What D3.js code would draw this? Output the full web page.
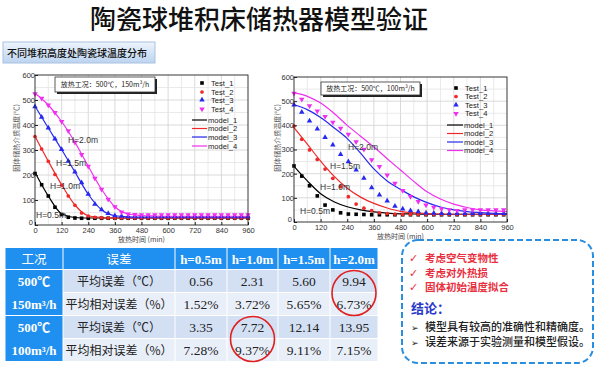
<!DOCTYPE html>
<html><head><meta charset="utf-8">
<script src="https://cdn.jsdelivr.net/npm/d3@7"></script>
<style>
html,body{margin:0;padding:0;background:#fff;}
svg{display:block;}
</style>
</head><body>
<svg id="c" width="600" height="374"></svg>
<script>
// ---------- DATA ----------
const title = "陶瓷球堆积床储热器模型验证";
const subtitle = "不同堆积高度处陶瓷球温度分布";
const xTicks = [0,120,240,360,480,600,720,840,960];
const yTicks = [0,100,200,300,400,500,600];
const seriesNames = ["Test_1","Test_2","Test_3","Test_4"];
const modelNames = ["model_1","model_2","model_3","model_4"];
const heightLabels = ["H=0.5m","H=1.0m","H=1.5m","H=2.0m"];
const xLabel = "放热时间 (min)";
const yLabel = "固体储热介质温度(℃)";
const condLeft = "放热工况：500℃，150m³/h";
const condRight = "放热工况：500℃，100m³/h";

// left chart (150 m3/h): tests every 30 min
const timeL = [0,30,60,90,120,150,180,210,240,270,300,330,360,390,420,450,480,510,540,570,600,630,660,690,720,750,780,810,840,870,900,930,960];
const testL1 = [206,161,116,71,42,31,28,27,27,27,27,27,27,27,27,27,27,27,27,27,27,27,27,27,27,27,27,27,27,27,27,27,27];
const testL2 = [354,304,255,202,159,116,79,48,36,31,29,28,28,28,28,28,28,28,28,28,28,28,28,28,28,28,28,28,28,28,28,28,28];
const testL3 = [473,431,388,344,302,255,212,169,123,83,61,46,37,35,33,33,33,33,33,33,33,33,33,33,33,33,33,33,33,33,33,33,33];
const testL4 = [525,507,480,450,414,377,331,282,235,187,143,103,73,52,44,42,41,41,41,41,41,41,41,41,41,41,41,41,41,41,41,41,41];
// right chart (100 m3/h): tests every 35 min
const timeR = [0,35,70,105,140,175,210,245,280,315,350,385,420,455,490,525,560,595,630,665,700,735,770,805,840,875,910,945];
const testR1 = [232,190,150,108,70,50,38,33,32,31,30,30,30,30,30,30,30,30,30,30,30,30,30,30,30,30,30,30];
const testR2 = [397,342,298,259,219,181,146,105,74,57,47,38,35,33,32,32,32,32,32,32,32,32,32,32,32,32,32,32];
const testR3 = [484,454,418,385,350,319,280,250,215,181,142,112,87,66,54,47,43,38,37,36,35,35,35,35,35,35,35,35];
const testR4 = [532,508,481,459,436,412,388,363,332,301,257,229,194,160,130,105,84,70,61,54,50,47,50,50,50,50,50,50];
// model curves every 60 min
const modelTime = [0,60,120,180,240,300,360,420,480,540,600,660,720,780,840,900,960];
const modelL1 = [210,116,45,30,28,28,28,28,28,28,28,28,28,28,28,28,28];
const modelL2 = [355,255,161,80,37,30,28,28,28,28,28,28,28,28,28,28,28];
const modelL3 = [475,388,302,212,123,61,37,33,32,32,32,32,32,32,32,32,32];
const modelL4 = [527,480,414,331,235,143,73,44,38,36,35,35,35,35,35,35,35];
const modelR1 = [230,170,117,84,63,50,42,37,34,33,32,32,32,32,32,32,32];
const modelR2 = [390,322,252,190,140,103,77,58,44,38,35,33,32,32,32,32,32];
const modelR3 = [485,465,432,390,345,285,220,170,135,104,80,62,50,43,39,36,35];
const modelR4 = [535,520,492,450,400,355,310,262,215,168,125,95,74,60,50,46,43];

// table
const tableHeader = ["工况","误差","h=0.5m","h=1.0m","h=1.5m","h=2.0m"];
const conditions = [["500℃","150m³/h"],["500℃","100m³/h"]];
const errorTypes = ["平均误差（℃）","平均相对误差（%）","平均误差（℃）","平均相对误差（%）"];
const errValues = [
  ["0.56","2.31","5.60","9.94"],
  ["1.52%","3.72%","5.65%","6.73%"],
  ["3.35","7.72","12.14","13.95"],
  ["7.28%","9.37%","9.11%","7.15%"]
];
const circled = [[0,3],[2,1]]; // [rowGroupStart, valueCol]
const checks = ["考虑空气变物性","考虑对外热损","固体初始温度拟合"];
const conclusionTitle = "结论：";
const conclusions = ["模型具有较高的准确性和精确度。","误差来源于实验测量和模型假设。"];

// ---------- STYLE ----------
const colors = ["#000000","#f02828","#2828f0","#f030f0"];
const symbols = [d3.symbolSquare, d3.symbolCircle, d3.symbolTriangle, d3.symbolTriangle];
const rot = [0,0,0,180];
const sans = "Arial, 'Liberation Sans', 'Noto Sans CJK SC', sans-serif";
const cjk = "'Noto Sans CJK SC', sans-serif";
const serif = "'Liberation Serif', 'Times New Roman', 'Noto Sans CJK SC', serif";

const svg = d3.select("#c");

svg.append("text").attr("x",259).attr("y",29).attr("text-anchor","middle")
  .attr("font-family",cjk).attr("font-size",26).attr("font-weight",500).attr("fill","#111").text(title);

// subtitle button
const defs = svg.append("defs");
const g1 = defs.append("linearGradient").attr("id","btn").attr("x1",0).attr("y1",0).attr("x2",0).attr("y2",1);
g1.append("stop").attr("offset","0%").attr("stop-color","#eef4fc");
g1.append("stop").attr("offset","100%").attr("stop-color","#bcd4f0");
svg.append("rect").attr("x",3).attr("y",42).attr("width",152).attr("height",21)
  .attr("fill","url(#btn)").attr("stroke","#a9c2e0").attr("stroke-width",1);
svg.append("text").attr("x",7).attr("y",57).attr("font-family",cjk).attr("font-size",10).attr("font-weight",500)
  .attr("fill","#111").text(subtitle);

function drawChart(cfg){
  const x = d3.scaleLinear().domain([0,960]).range([cfg.x0,cfg.x1]);
  const y = d3.scaleLinear().domain([0,600]).range([cfg.y0,cfg.y1]);
  const g = svg.append("g");
  g.append("rect").attr("x",cfg.x0).attr("y",cfg.y1).attr("width",cfg.x1-cfg.x0).attr("height",cfg.y0-cfg.y1).attr("fill","#fff");
  // grid
  const gx = d3.range(60,960,60), gy = d3.range(50,600,50);
  g.selectAll(".gv").data(gx).join("line").attr("x1",d=>x(d)).attr("x2",d=>x(d)).attr("y1",cfg.y0).attr("y2",cfg.y1)
    .attr("stroke",d=>d%120===0?"#d0d0d0":"#e4e4e4").attr("stroke-width",0.8);
  g.selectAll(".gh").data(gy).join("line").attr("y1",d=>y(d)).attr("y2",d=>y(d)).attr("x1",cfg.x0).attr("x2",cfg.x1)
    .attr("stroke",d=>d%100===0?"#d0d0d0":"#e4e4e4").attr("stroke-width",0.8);
  // models
  const line = d3.line().x(d=>x(d[0])).y(d=>y(d[1])).curve(d3.curveMonotoneX);
  cfg.models.forEach((m,i)=>{
    g.append("path").attr("d",line(modelTime.map((t,j)=>[t,m[j]]))).attr("fill","none")
      .attr("stroke",colors[i]).attr("stroke-width",1.2);
  });
  // tests
  cfg.tests.forEach((s,i)=>{
    const sym = d3.symbol().type(symbols[i]).size(i===1?11:13);
    g.selectAll(null).data(s.map((v,j)=>[cfg.time[j],v])).join("path").attr("d",sym)
      .attr("transform",d=>`translate(${x(d[0])},${y(d[1])}) rotate(${rot[i]})`).attr("fill",colors[i]);
  });
  // frame
  g.append("rect").attr("x",cfg.x0).attr("y",cfg.y1).attr("width",cfg.x1-cfg.x0).attr("height",cfg.y0-cfg.y1)
    .attr("fill","none").attr("stroke","#222").attr("stroke-width",0.9);
  // axes
  const ax = g.append("g").attr("transform",`translate(0,${cfg.y0})`)
    .call(d3.axisBottom(x).tickValues(xTicks).tickSize(-3).tickPadding(3).tickFormat(d3.format("d")));
  const ay = g.append("g").attr("transform",`translate(${cfg.x0},0)`)
    .call(d3.axisLeft(y).tickValues(yTicks).tickSize(-3).tickPadding(0).tickFormat(d3.format("d")));
  [ax,ay].forEach(a=>{
    a.select(".domain").remove();
    a.selectAll("line").attr("stroke","#222");
    a.selectAll("text").attr("font-family",sans).attr("font-size",7.5).attr("fill","#333");
  });
  ay.selectAll(".tick").filter(d=>d===0).select("text").attr("dy","-0.1em").attr("x",-2);
  // labels
  g.append("text").attr("x",(cfg.x0+cfg.x1)/2).attr("y",cfg.y0+17).attr("text-anchor","middle")
    .attr("font-family",cjk).attr("font-size",7).attr("fill","#444").text(xLabel);
  g.append("text").attr("transform",`translate(${cfg.ylx},138) rotate(-90)`).attr("text-anchor","middle")
    .attr("font-family",cjk).attr("font-size",7).attr("fill","#555").text(yLabel);
  // condition box
  const b = cfg.box;
  g.append("rect").attr("x",b[0]+2).attr("y",b[1]+2).attr("width",b[2]).attr("height",b[3]).attr("fill","#222");
  g.append("rect").attr("x",b[0]).attr("y",b[1]).attr("width",b[2]).attr("height",b[3]).attr("fill","#fff").attr("stroke","#333").attr("stroke-width",0.8);
  g.append("text").attr("x",b[0]+b[2]/2).attr("y",b[1]+b[3]/2+2.5).attr("text-anchor","middle")
    .attr("font-family",cjk).attr("font-size",7).attr("fill","#222").text(cfg.cond);
  // height labels
  heightLabels.forEach((h,i)=>{
    g.append("text").attr("x",cfg.hl[i][0]).attr("y",cfg.hl[i][1]).attr("font-family",sans).attr("font-size",8.5)
      .attr("fill","#333").text(h);
  });
  // legend
  const L = cfg.leg;
  seriesNames.forEach((n,i)=>{
    const yy = L.ty[i];
    g.append("path").attr("d",d3.symbol().type(symbols[i]).size(i===1?11:13)())
      .attr("transform",`translate(${L.sx},${yy}) rotate(${rot[i]})`).attr("fill",colors[i]);
    g.append("text").attr("x",L.tx).attr("y",yy+2.7).attr("font-family",sans).attr("font-size",7.6).attr("fill","#222").text(n);
  });
  modelNames.forEach((n,i)=>{
    const yy = L.my[i];
    g.append("line").attr("x1",L.lx0).attr("x2",L.lx1).attr("y1",yy).attr("y2",yy).attr("stroke",colors[i]).attr("stroke-width",1.2);
    g.append("text").attr("x",L.lx1+1).attr("y",yy+2.7).attr("font-family",sans).attr("font-size",7.6).attr("fill","#222").text(n);
  });
}

drawChart({x0:35,x1:248,y0:225,y1:75,time:timeL,tests:[testL1,testL2,testL3,testL4],
  models:[modelL1,modelL2,modelL3,modelL4],ylx:19,box:[55,77,100,15],cond:condLeft,
  hl:[[36,218],[50,189],[56,166],[68,143]],
  leg:{sx:202,tx:211,ty:[83,92,100,109],my:[120,128.5,137,146],lx0:192,lx1:207}});
drawChart({x0:294,x1:507,y0:222,y1:77,time:timeR,tests:[testR1,testR2,testR3,testR4],
  models:[modelR1,modelR2,modelR3,modelR4],ylx:280,box:[321,82,99,13],cond:condRight,
  hl:[[300,214],[320,190],[330,169],[348,150]],
  leg:{sx:456,tx:465,ty:[88,96.5,105,113.5],my:[125,133.5,142,150.5],lx0:447,lx1:463}});

// ---------- TABLE ----------
const colX = [5,63,175,227,278,330,378];
const rowY = [248,270,293,316,339,362];
const tg = svg.append("g");
const gap = 1;
tableHeader.forEach((h,c)=>{
  tg.append("rect").attr("x",colX[c]+gap/2).attr("y",rowY[0]).attr("width",colX[c+1]-colX[c]-gap).attr("height",rowY[1]-rowY[0]-gap)
    .attr("fill","#1f8ff0");
  tg.append("text").attr("x",(colX[c]+colX[c+1])/2).attr("y",(rowY[0]+rowY[1])/2+4.5).attr("text-anchor","middle")
    .attr("font-family",c<2?cjk:serif).attr("font-weight",c<2?400:700).attr("font-size",c<2?12.5:13).attr("fill","#fff").text(h);
});
conditions.forEach((cd,k)=>{
  const r0 = k*2+1;
  tg.append("rect").attr("x",colX[0]+gap/2).attr("y",rowY[r0]).attr("width",colX[1]-colX[0]-gap).attr("height",rowY[r0+2]-rowY[r0]-gap)
    .attr("fill","#1f8ff0");
  cd.forEach((t,j)=>{
    tg.append("text").attr("x",(colX[0]+colX[1])/2).attr("y",(rowY[r0+j]+rowY[r0+j+1])/2+4.5).attr("text-anchor","middle")
      .attr("font-family",serif).attr("font-weight",700).attr("font-size",13).attr("fill","#fff").text(t);
  });
});
errorTypes.forEach((et,r)=>{
  const fill = r%2===0?"#d3e0f4":"#e9eff9";
  for(let c=1;c<6;c++){
    tg.append("rect").attr("x",colX[c]+gap/2).attr("y",rowY[r+1]).attr("width",colX[c+1]-colX[c]-gap).attr("height",rowY[r+2]-rowY[r+1]-gap)
      .attr("fill",fill);
  }
  tg.append("text").attr("x",(colX[1]+colX[2])/2).attr("y",(rowY[r+1]+rowY[r+2])/2+4.5).attr("text-anchor","middle")
    .attr("font-family",cjk).attr("font-size",12).attr("fill","#222").text(et);
  errValues[r].forEach((v,c)=>{
    tg.append("text").attr("x",(colX[c+2]+colX[c+3])/2).attr("y",(rowY[r+1]+rowY[r+2])/2+4.5).attr("text-anchor","middle")
      .attr("font-family",serif).attr("font-size",13.5).attr("fill","#222").text(v);
  });
});
circled.forEach(([r,c])=>{
  const cx = (colX[c+2]+colX[c+3])/2, cy = rowY[r+2];
  tg.append("ellipse").attr("cx",cx).attr("cy",cy).attr("rx",22).attr("ry",22.5)
    .attr("fill","none").attr("stroke","#e02020").attr("stroke-width",1.6);
});

// ---------- NOTE BOX ----------
svg.append("rect").attr("x",402).attr("y",240).attr("width",191).attr("height",123).attr("rx",16)
  .attr("fill","#fff").attr("stroke","#2a8ee0").attr("stroke-width",2).attr("stroke-dasharray","6,3");
checks.forEach((t,i)=>{
  const yy = 262+i*14.5;
  svg.append("text").attr("x",409).attr("y",yy).attr("font-family","'DejaVu Sans',sans-serif").attr("font-size",11).attr("font-weight",700).attr("fill","#e83040").text("✓");
  svg.append("text").attr("x",425).attr("y",yy).attr("font-family",cjk).attr("font-size",10.5).attr("font-weight",700).attr("fill","#e83040").text(t);
});
svg.append("text").attr("x",411).attr("y",313).attr("font-family",cjk).attr("font-size",13).attr("font-weight",700).attr("fill","#2838c8").text(conclusionTitle);
conclusions.forEach((t,i)=>{
  const yy = 331+i*15;
  svg.append("text").attr("x",411).attr("y",yy).attr("font-family","'DejaVu Sans',sans-serif").attr("font-size",9).attr("fill","#222").text("➢");
  svg.append("text").attr("x",425).attr("y",yy).attr("font-family",cjk).attr("font-size",11).attr("font-weight",500).attr("fill","#222").text(t);
});
</script>
</body></html>
